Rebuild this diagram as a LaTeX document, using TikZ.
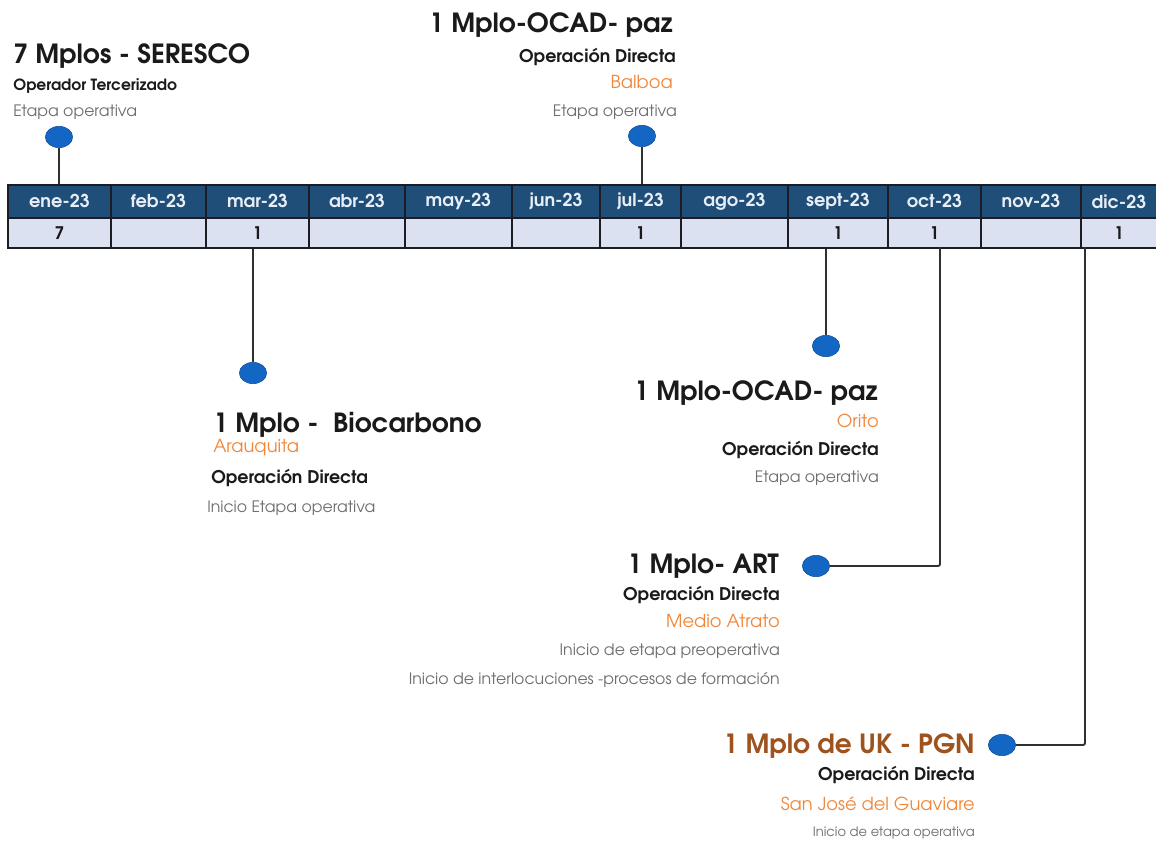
\documentclass[tikz,border=0pt]{standalone}
\usepackage{fontspec}
\setmainfont{TeX Gyre Adventor}
\usetikzlibrary{shapes.geometric}
\definecolor{hdr}{HTML}{1F4E79}
\definecolor{valc}{HTML}{DCE1F1}
\definecolor{gridc}{HTML}{1C1C24}
\definecolor{htxt}{HTML}{E8EEF6}
\definecolor{mark}{HTML}{1466C4}
\definecolor{markb}{HTML}{0E4E98}
\definecolor{conn}{HTML}{303030}
\definecolor{orng}{HTML}{F0873A}
\definecolor{brwn}{HTML}{9E521E}
\definecolor{gtxt}{HTML}{6E6E6E}
\definecolor{dtxt}{HTML}{1A1A1A}
\begin{document}
\begin{tikzpicture}[x=0.75pt,y=-0.75pt,
  hcell/.style={fill=hdr,draw=gridc,line width=1.4pt,text=htxt,inner sep=0pt,
    minimum height=24.75pt,font=\bfseries\fontsize{13.3}{13.3}\selectfont},
  vcell/.style={fill=valc,draw=gridc,line width=1.4pt,text=dtxt,inner sep=0pt,
    minimum height=22.5pt,font=\bfseries\fontsize{13}{13}\selectfont},
  marker/.style={ellipse,fill=mark,draw=markb,line width=0.4pt,minimum width=20.5pt,minimum height=16pt,inner sep=0pt},
  link/.style={draw=conn,line width=1.4pt,rounded corners=1.5pt},
  ttl/.style={inner sep=0pt,text=dtxt,font=\bfseries\fontsize{19.8}{19.8}\selectfont},
  sub/.style={inner sep=0pt,text=dtxt,font=\bfseries\fontsize{13.1}{13.1}\selectfont},
  place/.style={inner sep=0pt,text=orng,font=\fontsize{13.4}{13.4}\selectfont},
  note/.style={inner sep=0pt,text=gtxt,font=\fontsize{11.8}{11.8}\selectfont}]
\useasboundingbox (0,0) rectangle (1156,846);
\fill[white] (0,0) rectangle (1156,846);

% table
\foreach \i/\l/\r/\m/\v in {1/7/110/ene-23/7,2/110/205/feb-23/{},3/205/308/mar-23/1,4/308/404/abr-23/{},
  5/404/511/may-23/{},6/511/599/jun-23/{},7/599/680/jul-23/1,8/680/787/ago-23/{},
  9/787/887/sept-23/1,10/887/980/oct-23/1,11/980/1080/nov-23/{},12/1080/1156/dic-23/1}{
  \node[hcell,anchor=north west,minimum width={(\r-\l)*0.75pt}] (h\i) at (\l,184) {\m};
  \node[vcell,anchor=north west,minimum width={(\r-\l)*0.75pt}] (v\i) at (\l,217) {\v};
}

% markers
\node[marker] (m1) at (59,137) {};
\node[marker] (m7) at (642,136) {};
\node[marker] (m3) at (253,373) {};
\node[marker] (m9) at (826,346) {};
\node[marker] (m10) at (816,566) {};
\node[marker] (m12) at (1002,745) {};
\coordinate (c10) at (940,247);
\coordinate (c12) at (1085,247);

% connectors
\draw[link] (m1) -- (m1 |- h1.north);
\draw[link] (m7) -- (m7 |- h7.north);
\draw[link] (m3) -- (m3 |- v3.south);
\draw[link] (m9) -- (m9 |- v9.south);
\draw[link] (m10.east) -| (c10);
\draw[link] (m12.east) -| (c12);

% texts: SERESCO
\node[ttl,anchor=base west] (t1a) at (13,63) {7 Mplos - SERESCO};
\node[sub,anchor=base west,font=\bfseries\fontsize{11.6}{11.6}\selectfont] (t1b) at (13,90) {Operador Tercerizado};
\node[note,anchor=base west] (t1c) at (13,116) {Etapa operativa};
% Balboa
\node[ttl,anchor=base east] (t2a) at (673,32) {1 Mplo-OCAD- paz};
\node[sub,anchor=base east] (t2b) at (676,62) {Operación Directa};
\node[place,anchor=base east] (t2c) at (673,88) {Balboa};
\node[note,anchor=base east] (t2d) at (677,116) {Etapa operativa};
% Biocarbono
\node[ttl,anchor=base west] (t3a) at (213,432) {1 Mplo -\ \ Biocarbono};
\node[place,anchor=base west] (t3b) at (213,452) {Arauquita};
\node[sub,anchor=base west] (t3c) at (211,483) {Operación Directa};
\node[note,anchor=base west] (t3d) at (207,512) {Inicio Etapa operativa};
% Orito
\node[ttl,anchor=base east] (t4a) at (878,400) {1 Mplo-OCAD- paz};
\node[place,anchor=base east] (t4b) at (879,427) {Orito};
\node[sub,anchor=base east] (t4c) at (879,455) {Operación Directa};
\node[note,anchor=base east] (t4d) at (879,482) {Etapa operativa};
% ART
\node[ttl,anchor=base east] (t5a) at (779,573) {1 Mplo- ART};
\node[sub,anchor=base east] (t5b) at (780,600) {Operación Directa};
\node[place,anchor=base east] (t5c) at (780,627) {Medio Atrato};
\node[note,anchor=base east] (t5d) at (780,655) {Inicio de etapa preoperativa};
\node[note,anchor=base east] (t5e) at (780,684) {Inicio de interlocuciones -procesos de formación};
% UK
\node[ttl,anchor=base east,text=brwn] (t6a) at (975,753) {1 Mplo de UK - PGN};
\node[sub,anchor=base east] (t6b) at (975,780) {Operación Directa};
\node[place,anchor=base east] (t6c) at (975,810) {San José del Guaviare};
\node[note,anchor=base east,font=\fontsize{9.8}{9.8}\selectfont] (t6d) at (975,836) {Inicio de etapa operativa};
\end{tikzpicture}
\end{document}
